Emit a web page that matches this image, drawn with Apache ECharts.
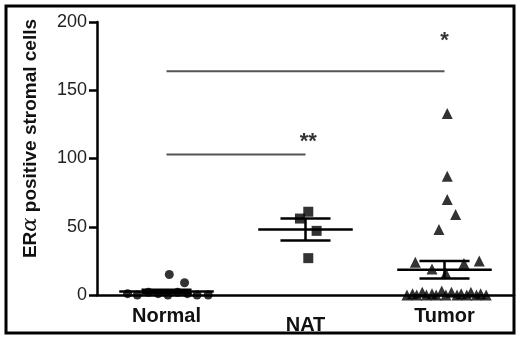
<!DOCTYPE html>
<html>
<head>
<meta charset="utf-8">
<script src="https://cdn.jsdelivr.net/npm/echarts@6/dist/echarts.min.js"></script>
<style>
  html, body { margin: 0; padding: 0; background: #fff; }
  #chart { width: 516px; height: 337px; }
</style>
</head>
<body>
<div id="chart"></div>
<script>
// groups on the x axis
const categories = ['Normal', 'NAT', 'Tumor'];

// individual points (value + horizontal spread in category units)
const normalVals = [15, 9, 1, 0, 2, 1, 0, 2, 1, 0, 0];
const normalDx = [0.02, 0.13, -0.28, -0.21, -0.13, -0.06, 0.01, 0.08, 0.15, 0.22, 0.3];
const natVals = [61, 56, 47, 27];
const natDx = [0.02, -0.04, 0.08, 0.02];
const tumorVals = [133, 87, 70, 59, 48, 24, 23, 25, 19, 16,
  0, 1, 0, 2, 0, 1, 0, 3, 0, 2, 0, 1, 0, 2, 0, 1, 0];
const tumorDx = [0.02, 0.02, 0.02, 0.08, -0.04, -0.21, 0.14, 0.25, -0.09, 0.01,
  -0.27, -0.23, -0.2, -0.16, -0.13, -0.09, -0.06, -0.02, 0.01, 0.05, 0.09, 0.12, 0.16, 0.19, 0.23, 0.26, 0.3];

// mean and SEM per group
const means = [2.5, 48, 18.5];
const sems = [1.3, 8, 6.5];

// significance brackets: [fromGroup, toGroup, y]
const sigLines = [[0, 2, 164], [0, 1, 103]];
const sigLabels = [['*', 2, 186], ['**', 1.02, 112]];

const yTicks = [0, 50, 100, 150, 200];

const font = 'Liberation Sans, Arial, sans-serif';

function pts(vals, dx, idx) {
  return vals.map((v, i) => [idx + dx[i], v]);
}

const chart = echarts.init(document.getElementById('chart'), null, { renderer: 'canvas' });

const option = {
  animation: false,
  backgroundColor: '#fff',
  grid: { left: 97, right: 2, top: 22, bottom: 42 },
  xAxis: [
    {
      type: 'category',
      data: categories.map(c => c === 'NAT'
        ? { value: c, textStyle: { padding: [9, 0, 0, 0] } }
        : c),
      axisLine: { onZero: false, lineStyle: { color: '#000', width: 2.5 } },
      axisTick: { alignWithLabel: true, length: 6, lineStyle: { color: '#000', width: 2.5 } },
      axisLabel: { margin: 11, fontSize: 20, fontWeight: 'bold', color: '#111', fontFamily: font },
      splitLine: { show: false }
    },
    {
      type: 'value',
      min: -0.5,
      max: 2.5,
      show: false
    }
  ],
  yAxis: {
    type: 'value',
    min: yTicks[0],
    max: yTicks[yTicks.length - 1],
    interval: 50,
    name: '{a|ER}{b|α}{a| positive stromal cells}',
    nameLocation: 'middle',
    nameRotate: 90,
    nameGap: 56,
    nameTextStyle: {
      padding: [0, 0, 0, 40],
      rich: {
        a: { fontSize: 19, fontWeight: 'bold', color: '#111', fontFamily: font },
        b: { fontSize: 21, color: '#111', fontFamily: 'DejaVu Serif, serif', fontStyle: 'italic' }
      }
    },
    axisLine: { show: true, onZero: false, lineStyle: { color: '#000', width: 2.5 } },
    axisTick: { show: true, length: 8, lineStyle: { color: '#000', width: 2.5 } },
    axisLabel: { margin: 10, fontSize: 18, color: '#222', fontFamily: font },
    splitLine: { show: false }
  },
  series: [
    {
      type: 'scatter',
      xAxisIndex: 1,
      symbol: 'circle',
      symbolSize: 9,
      itemStyle: { color: '#000' },
      data: pts(normalVals, normalDx, 0),
      z: 3
    },
    {
      type: 'scatter',
      xAxisIndex: 1,
      symbol: 'rect',
      symbolSize: 10,
      itemStyle: { color: '#000' },
      data: pts(natVals, natDx, 1),
      z: 3
    },
    {
      type: 'scatter',
      xAxisIndex: 1,
      symbol: 'triangle',
      symbolSize: 11,
      itemStyle: { color: '#000' },
      data: pts(tumorVals, tumorDx, 2),
      z: 3
    },
    {
      type: 'custom',
      xAxisIndex: 1,
      data: means.map((m, i) => [i, m, sems[i]]),
      z: 4,
      renderItem: function (params, api) {
        const x = api.value(0), m = api.value(1), s = api.value(2);
        const band = api.size([1, 0])[0];
        const c = api.coord([x, m]);
        const hi = api.coord([x, m + s]);
        const lo = api.coord([x, m - s]);
        const half = band * 0.34;
        const cap = band * 0.18;
        const st = { stroke: '#000', lineWidth: 2.5 };
        return {
          type: 'group',
          children: [
            { type: 'line', shape: { x1: c[0] - half, y1: c[1], x2: c[0] + half, y2: c[1] }, style: st },
            { type: 'line', shape: { x1: hi[0], y1: hi[1], x2: lo[0], y2: lo[1] }, style: st },
            { type: 'line', shape: { x1: hi[0] - cap, y1: hi[1], x2: hi[0] + cap, y2: hi[1] }, style: st },
            { type: 'line', shape: { x1: lo[0] - cap, y1: lo[1], x2: lo[0] + cap, y2: lo[1] }, style: st }
          ]
        };
      }
    },
    ...sigLines.map(l => ({
      type: 'line',
      xAxisIndex: 1,
      symbol: 'none',
      lineStyle: { color: '#555', width: 2 },
      data: [[l[0], l[2]], [l[1], l[2]]]
    })),
    {
      type: 'scatter',
      xAxisIndex: 1,
      symbolSize: 0,
      data: sigLabels.map(s => ({ value: [s[1], s[2]], name: s[0] })),
      label: {
        show: true,
        position: 'inside',
        formatter: p => p.name,
        fontSize: 22,
        fontWeight: 'bold',
        color: '#000',
        fontFamily: font
      }
    }
  ],
  graphic: [
    {
      type: 'rect',
      shape: { x: 6, y: 6, width: 508, height: 327 },
      style: { fill: 'none', stroke: '#000', lineWidth: 3 },
      silent: true,
      z: 100
    }
  ]
};

chart.setOption(option);
</script>
</body>
</html>
